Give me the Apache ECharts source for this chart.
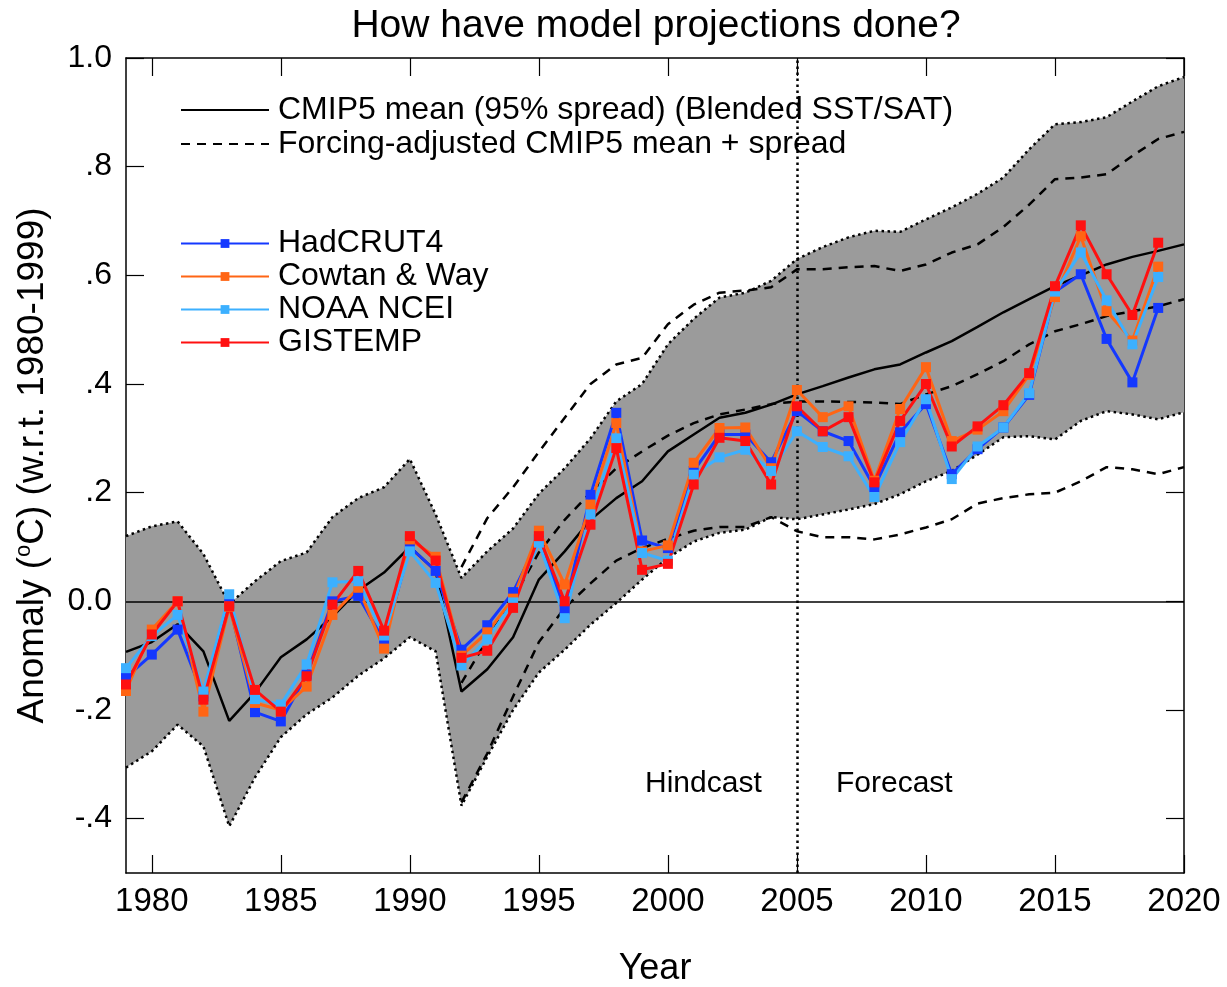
<!DOCTYPE html>
<html>
<head>
<meta charset="utf-8">
<title>How have model projections done?</title>
<script src="https://cdn.jsdelivr.net/npm/echarts@6/dist/echarts.min.js"></script>
<style>
  html, body { margin: 0; padding: 0; background: #fff; }
  #chart { width: 1227px; height: 987px; }
</style>
</head>
<body>
<div id="chart"></div>
<script>
// Years covered by the model ensemble
const years = [1979, 1980, 1981, 1982, 1983, 1984, 1985, 1986, 1987, 1988, 1989,
  1990, 1991, 1992, 1993, 1994, 1995, 1996, 1997, 1998, 1999,
  2000, 2001, 2002, 2003, 2004, 2005, 2006, 2007, 2008, 2009,
  2010, 2011, 2012, 2013, 2014, 2015, 2016, 2017, 2018, 2019, 2020];

// CMIP5 multi-model mean and 95% spread (blended SST/SAT), anomalies w.r.t. 1980-1999
const cmip5Mean = [-0.093, -0.075, -0.042, -0.092, -0.220, -0.168, -0.103, -0.070, -0.028, 0.020, 0.053,
  0.100, 0.056, -0.166, -0.125, -0.066, 0.040, 0.092, 0.150, 0.190, 0.221,
  0.276, 0.307, 0.338, 0.347, 0.362, 0.381, 0.396, 0.412, 0.427, 0.436,
  0.458, 0.479, 0.505, 0.532, 0.556, 0.580, 0.600, 0.620, 0.634, 0.645, 0.657];
const cmip5Upper = [0.120, 0.138, 0.147, 0.087, -0.005, 0.037, 0.074, 0.090, 0.155, 0.190, 0.210,
  0.262, 0.160, 0.043, 0.092, 0.134, 0.198, 0.245, 0.300, 0.368, 0.400,
  0.473, 0.520, 0.559, 0.568, 0.590, 0.630, 0.652, 0.670, 0.682, 0.680,
  0.703, 0.725, 0.750, 0.780, 0.832, 0.878, 0.882, 0.891, 0.920, 0.948, 0.965];
const cmip5Lower = [-0.306, -0.276, -0.227, -0.267, -0.414, -0.324, -0.250, -0.208, -0.177, -0.137, -0.105,
  -0.066, -0.092, -0.376, -0.286, -0.200, -0.131, -0.089, -0.043, -0.003, 0.040,
  0.080, 0.110, 0.126, 0.132, 0.155, 0.151, 0.160, 0.169, 0.179, 0.197,
  0.221, 0.240, 0.270, 0.302, 0.304, 0.298, 0.332, 0.350, 0.344, 0.335, 0.348];

// Forcing-adjusted CMIP5 mean and spread (from 1992 on)
const adjYears = [1992, 1993, 1994, 1995, 1996, 1997, 1998, 1999,
  2000, 2001, 2002, 2003, 2004, 2005, 2006, 2007, 2008, 2009,
  2010, 2011, 2012, 2013, 2014, 2015, 2016, 2017, 2018, 2019, 2020];
const adjMean = [-0.150, -0.070, 0.005, 0.090, 0.150, 0.200, 0.245, 0.276,
  0.305, 0.328, 0.344, 0.353, 0.363, 0.368, 0.368, 0.367, 0.366, 0.363,
  0.381, 0.396, 0.418, 0.442, 0.473, 0.497, 0.510, 0.525, 0.534, 0.543, 0.556];
const adjUpper = [0.063, 0.153, 0.210, 0.275, 0.338, 0.400, 0.436, 0.448,
  0.510, 0.546, 0.568, 0.572, 0.578, 0.611, 0.611, 0.615, 0.617, 0.608,
  0.620, 0.642, 0.657, 0.689, 0.730, 0.777, 0.780, 0.786, 0.820, 0.851, 0.864];
const adjLower = [-0.370, -0.280, -0.175, -0.075, -0.012, 0.033, 0.075, 0.098,
  0.115, 0.130, 0.137, 0.137, 0.155, 0.129, 0.118, 0.118, 0.114, 0.123,
  0.136, 0.151, 0.180, 0.190, 0.197, 0.200, 0.221, 0.247, 0.243, 0.234, 0.247];

// Observed annual anomalies
const obsYears = [1979, 1980, 1981, 1982, 1983, 1984, 1985, 1986, 1987, 1988, 1989,
  1990, 1991, 1992, 1993, 1994, 1995, 1996, 1997, 1998, 1999,
  2000, 2001, 2002, 2003, 2004, 2005, 2006, 2007, 2008, 2009,
  2010, 2011, 2012, 2013, 2014, 2015, 2016, 2017, 2018, 2019];
const hadcrut4 = [-0.140, -0.098, -0.052, -0.175, -0.004, -0.204, -0.221, -0.135, 0.000, 0.010, -0.073,
  0.100, 0.056, -0.089, -0.044, 0.017, 0.114, -0.015, 0.196, 0.347, 0.112,
  0.098, 0.240, 0.307, 0.307, 0.256, 0.350, 0.313, 0.295, 0.210, 0.311,
  0.363, 0.234, 0.280, 0.320, 0.380, 0.570, 0.602, 0.483, 0.403, 0.540];
const cowtanWay = [-0.165, -0.052, 0.000, -0.203, -0.010, -0.187, -0.200, -0.157, -0.025, 0.025, -0.087,
  0.114, 0.082, -0.100, -0.057, 0.005, 0.130, 0.031, 0.178, 0.328, 0.092,
  0.103, 0.255, 0.319, 0.320, 0.245, 0.389, 0.339, 0.359, 0.222, 0.354,
  0.431, 0.295, 0.316, 0.350, 0.417, 0.560, 0.672, 0.534, 0.480, 0.616];
const noaaNcei = [-0.123, -0.064, -0.025, -0.166, 0.013, -0.180, -0.190, -0.116, 0.035, 0.037, -0.063,
  0.092, 0.034, -0.118, -0.070, -0.002, 0.108, -0.031, 0.160, 0.300, 0.089,
  0.075, 0.233, 0.265, 0.279, 0.240, 0.313, 0.284, 0.267, 0.192, 0.293,
  0.372, 0.225, 0.285, 0.320, 0.383, 0.570, 0.642, 0.554, 0.473, 0.597];
const gistemp = [-0.153, -0.061, 0.000, -0.181, -0.009, -0.163, -0.203, -0.138, -0.006, 0.056, -0.054,
  0.120, 0.075, -0.104, -0.091, -0.012, 0.120, 0.000, 0.141, 0.282, 0.058,
  0.069, 0.215, 0.301, 0.295, 0.215, 0.359, 0.313, 0.339, 0.219, 0.332,
  0.400, 0.285, 0.322, 0.361, 0.420, 0.580, 0.692, 0.602, 0.527, 0.660];

// Axis ticks
const xTicks = [1980, 1985, 1990, 1995, 2000, 2005, 2010, 2015, 2020];
const yTicks = [-0.4, -0.2, 0, 0.2, 0.4, 0.6, 0.8, 1.0];

const FONT = '"Liberation Sans", Arial, Helvetica, sans-serif';
const MEAN_NAME = 'CMIP5 mean (95% spread) (Blended SST/SAT)';
const ADJ_NAME = 'Forcing-adjusted CMIP5 mean + spread';
const DASH = [9, 7];
const DOT = [2.5, 3.5];

const pairs = (xs, ys) => xs.map((x, i) => [x, ys[i]]);

function yLabel(v) {
  if (Math.abs(v) < 1e-9) return '0.0';
  if (Math.abs(v - 1) < 1e-9) return '1.0';
  const s = v.toFixed(1);
  return s.replace('0.', '.');
}

function obsSeries(name, data, color) {
  return {
    name, type: 'line', data: pairs(obsYears, data),
    symbol: 'rect', symbolSize: 10, showSymbol: true,
    lineStyle: { color, width: 3 }, itemStyle: { color },
    z: 10, animation: false
  };
}

const chart = echarts.init(document.getElementById('chart'), null, { renderer: 'canvas' });

const axisCommonX = {
  type: 'value', min: 1979, max: 2020,
  axisLine: { show: true, onZero: false, lineStyle: { color: '#000', width: 1.5 } },
  axisTick: { show: true, inside: true, length: 18, customValues: xTicks, lineStyle: { color: '#000', width: 1.2 } },
  splitLine: { show: false }
};
const axisCommonY = {
  type: 'value', min: -0.5, max: 1.0,
  axisLine: { show: true, onZero: false, lineStyle: { color: '#000', width: 1.5 } },
  axisTick: { show: true, inside: true, length: 18, customValues: yTicks, lineStyle: { color: '#000', width: 1.2 } },
  splitLine: { show: false }
};

chart.setOption({
  animation: false,
  backgroundColor: '#fff',
  textStyle: { fontFamily: FONT, color: '#000' },
  title: {
    text: 'How have model projections done?',
    left: 656, top: 7, padding: 0, textAlign: 'center',
    textStyle: { fontFamily: FONT, fontSize: 39, fontWeight: 'normal', color: '#000' }
  },
  grid: { left: 126, right: 43, top: 58, bottom: 114, containLabel: false, outerBoundsMode: 'none' },
  xAxis: [
    Object.assign({}, axisCommonX, {
      position: 'bottom',
      name: 'Year', nameLocation: 'middle', nameGap: 78,
      nameTextStyle: { fontFamily: FONT, fontSize: 36, color: '#000' },
      axisLabel: { show: true, customValues: xTicks, margin: 12, fontSize: 33, color: '#000', fontFamily: FONT,
        formatter: v => String(v) }
    }),
    Object.assign({}, axisCommonX, { position: 'top', axisLabel: { show: false } })
  ],
  yAxis: [
    Object.assign({}, axisCommonY, {
      position: 'left',
      name: 'Anomaly ({sup|o}C) (w.r.t. 1980-1999)', nameLocation: 'middle', nameGap: 74, nameRotate: 90,
      nameTextStyle: {
        fontFamily: FONT, fontSize: 37, color: '#000',
        rich: { sup: { fontFamily: FONT, fontSize: 22, color: '#000', padding: [0, 0, 17, 0] } }
      },
      axisLabel: { show: true, customValues: yTicks, margin: 14, fontSize: 32, color: '#000', fontFamily: FONT,
        formatter: yLabel }
    }),
    Object.assign({}, axisCommonY, { position: 'right', axisLabel: { show: false } })
  ],
  legend: [
    {
      data: [
        { name: MEAN_NAME, itemStyle: { opacity: 0 } },
        { name: ADJ_NAME, itemStyle: { opacity: 0 } }
      ],
      orient: 'vertical', left: 180, top: 93, itemWidth: 88, itemHeight: 11, itemGap: 0,
      selectedMode: false, padding: 0,
      textStyle: { fontFamily: FONT, fontSize: 32, color: '#000', lineHeight: 34, padding: [0, 0, 0, 4] }
    },
    {
      data: ['HadCRUT4', 'Cowtan & Way', 'NOAA NCEI', 'GISTEMP'],
      orient: 'vertical', left: 180, top: 227, itemWidth: 88, itemHeight: 11, itemGap: 0,
      selectedMode: false, padding: 0,
      textStyle: { fontFamily: FONT, fontSize: 32, color: '#000', lineHeight: 33, padding: [0, 0, 0, 4] }
    }
  ],
  graphic: [
    { type: 'text', left: 645, top: 769, style: { text: 'Hindcast', font: '30px ' + FONT, fill: '#000' } },
    { type: 'text', left: 836, top: 769, style: { text: 'Forecast', font: '30px ' + FONT, fill: '#000' } }
  ],
  series: [
    {
      name: 'CMIP5 95% spread', type: 'custom', z: 1, silent: true,
      data: [[years[0], 0]],
      renderItem: function (params, api) {
        const pts = [];
        for (let i = 0; i < years.length; i++) pts.push(api.coord([years[i], cmip5Upper[i]]));
        for (let i = years.length - 1; i >= 0; i--) pts.push(api.coord([years[i], cmip5Lower[i]]));
        return { type: 'polygon', shape: { points: pts }, style: { fill: '#9b9b9b' } };
      },
      clip: true
    },
    {
      name: 'CMIP5 upper', type: 'line', data: pairs(years, cmip5Upper), symbol: 'none', z: 3,
      lineStyle: { color: '#000', width: 2.5, type: DOT }
    },
    {
      name: 'CMIP5 lower', type: 'line', data: pairs(years, cmip5Lower), symbol: 'none', z: 3,
      lineStyle: { color: '#000', width: 2.5, type: DOT }
    },
    {
      name: ADJ_NAME, type: 'line', data: pairs(adjYears, adjUpper), symbol: 'none', z: 4,
      lineStyle: { color: '#000', width: 2.5, type: DASH }, itemStyle: { color: '#000' }
    },
    {
      name: ADJ_NAME, type: 'line', data: pairs(adjYears, adjLower), symbol: 'none', z: 4,
      lineStyle: { color: '#000', width: 2.5, type: DASH }, itemStyle: { color: '#000' }
    },
    {
      name: ADJ_NAME, type: 'line', data: pairs(adjYears, adjMean), symbol: 'none', z: 4,
      lineStyle: { color: '#000', width: 2.5, type: DASH }, itemStyle: { color: '#000' }
    },
    {
      name: MEAN_NAME, type: 'line', data: pairs(years, cmip5Mean), symbol: 'none', z: 5,
      lineStyle: { color: '#000', width: 2.5 }, itemStyle: { color: '#000' },
      markLine: {
        silent: true, symbol: 'none', label: { show: false },
        data: [
          { yAxis: 0, lineStyle: { color: '#000', width: 1.6, type: 'solid' } },
          { xAxis: 2005, lineStyle: { color: '#000', width: 2.5, type: [2.5, 3.5] } }
        ]
      }
    },
    obsSeries('HadCRUT4', hadcrut4, '#1438ff'),
    obsSeries('Cowtan & Way', cowtanWay, '#ff6514'),
    obsSeries('NOAA NCEI', noaaNcei, '#3cb0ff'),
    obsSeries('GISTEMP', gistemp, '#ff1010')
  ]
});
</script>
</body>
</html>
